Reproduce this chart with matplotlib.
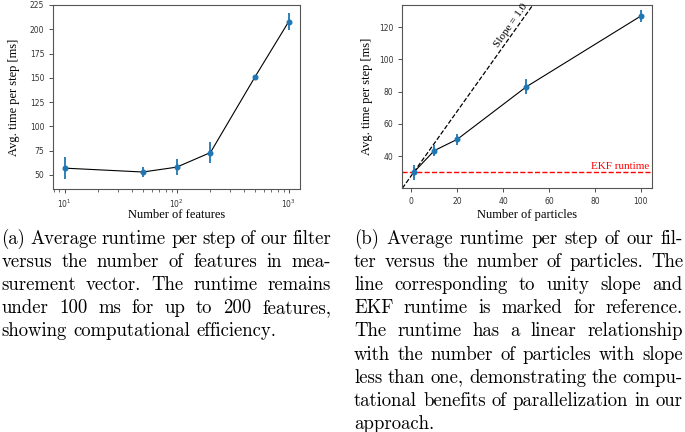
import matplotlib
matplotlib.use("Agg")
import matplotlib.pyplot as plt
import numpy as np

# (a) runtime vs number of features
n_features = [10, 50, 100, 200, 500, 1000]
t_features = [57, 53, 58, 73, 151, 208]
err_features = [11, 5, 8.5, 10.5, 1.5, 8.5]

# (b) runtime vs number of particles
n_particles = [1, 10, 20, 50, 100]
t_particles = [30, 43.5, 50.5, 83, 127]
err_particles = [4.5, 3.3, 3.5, 4.7, 3.5]

ekf_runtime = 30
ref_slope = 2.0   # dashed reference line as drawn in the picture

caption_a = ["(a) Average runtime per step of our filter",
             "versus the number of features in mea-",
             "surement vector. The runtime remains",
             "under 100 ms for up to 200 features,",
             "showing computational efficiency."]
caption_b = ["(b) Average runtime per step of our fil-",
             "ter versus the number of particles. The",
             "line corresponding to unity slope and",
             "EKF runtime is marked for reference.",
             "The runtime has a linear relationship",
             "with the number of particles with slope",
             "less than one, demonstrating the compu-",
             "tational benefits of parallelization in our",
             "approach."]

W, H = 685, 432
fig = plt.figure(figsize=(W/100, H/100), dpi=100)

blue = "#1f77b4"
spine_col = "#555555"
serif = "Liberation Serif"


def style(ax):
    for s in ax.spines.values():
        s.set_color(spine_col)
        s.set_linewidth(0.8)
    ax.tick_params(labelsize=5.5, colors="#333333", length=3, width=0.6)
    ax.tick_params(which="minor", length=1.8, width=0.5, colors="#333333")


# left axes
ax1 = fig.add_axes([53.3/W, 1-189/H, 246.7/W, 184/H])
ax1.plot(n_features, t_features, color="black", lw=0.8, zorder=2)
ax1.errorbar(n_features, t_features, yerr=err_features, fmt="o", color=blue,
             ms=3.3, elinewidth=1.3, zorder=3)
ax1.set_xscale("log")
ax1.set_ylim(35.5, 225)
ax1.set_yticks(np.arange(50, 226, 25))
ax1.set_xlabel("Number of features", fontfamily=serif, fontsize=9, va="top")
ax1.set_ylabel("Avg. time per step [ms]", fontfamily=serif, fontsize=9)
ax1.xaxis.set_label_coords(0.5, -0.11)
ax1.yaxis.set_label_coords(-0.135, 0.5)
style(ax1)

# right axes
ax2 = fig.add_axes([402.3/W, 1-188/H, 250/W, 183/H])
ax2.plot(n_particles, t_particles, color="black", lw=0.8, zorder=2)
ax2.errorbar(n_particles, t_particles, yerr=err_particles, fmt="o", color=blue,
             ms=3.3, elinewidth=1.3, zorder=3)
ax2.axhline(ekf_runtime, color="red", ls="--", lw=1.0, zorder=1)
xl = ax2.get_xlim()
xs = np.array([xl[0], 70])
ax2.plot(xs, t_particles[0] + ref_slope*(xs - n_particles[0]), color="black",
         ls="--", lw=0.9, zorder=1)
ax2.set_xlim(xl)
ax2.set_ylim(20.3, 133.8)
ax2.set_xticks(np.arange(0, 101, 20))
ax2.set_yticks(np.arange(40, 121, 20))
ax2.text(103.8, 30.6, "EKF runtime", color="red", fontfamily=serif,
         fontsize=8, ha="right", va="bottom")
ax2.text(43.6, 121, "Slope = 1.0", fontfamily=serif, fontsize=8,
         rotation=55, ha="center", va="center", rotation_mode="anchor")
ax2.set_xlabel("Number of particles", fontfamily=serif, fontsize=9, va="top")
ax2.set_ylabel("Avg. time per step [ms]", fontfamily=serif, fontsize=9)
ax2.xaxis.set_label_coords(0.5, -0.115)
ax2.yaxis.set_label_coords(-0.116, 0.5)
style(ax2)

# captions, justified line by line
cap_size = 13.5
renderer = fig.canvas.get_renderer()


def caption(lines, x0, x1, y0, step):
    for i, line in enumerate(lines):
        y = 1 - (y0 + i*step)/H
        words = line.split()
        objs = [fig.text(0, y, w, fontfamily="cmr10", fontsize=cap_size,
                         va="baseline") for w in words]
        widths = [o.get_window_extent(renderer).width for o in objs]
        if i == len(lines) - 1 or len(words) == 1:
            gap = 0.333*cap_size*100/72
        else:
            gap = (x1 - x0 - sum(widths))/(len(words) - 1)
        x = x0
        for o, w in zip(objs, widths):
            o.set_x(x/W)
            x += w + gap


caption(caption_a, 1.5, 331, 244, 23.1)
caption(caption_b, 354, 683, 244, 23.1)

fig.savefig("out.png", dpi=100)
